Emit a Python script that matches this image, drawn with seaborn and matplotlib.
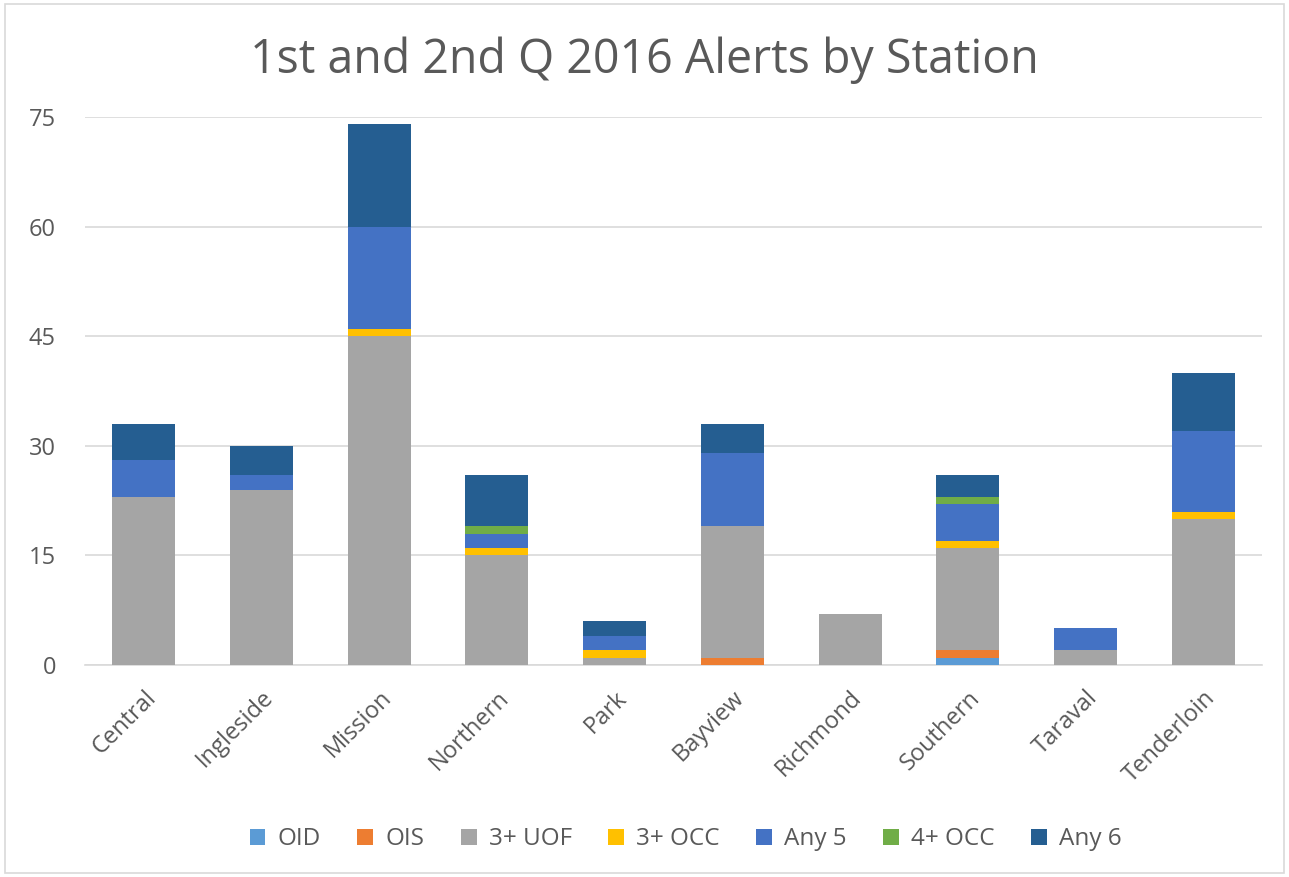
import matplotlib
matplotlib.use("Agg")
import matplotlib.pyplot as plt
import seaborn as sns
import numpy as np
import pandas as pd
from matplotlib.patches import Rectangle

stations = ["Central", "Ingleside", "Mission", "Northern", "Park", "Bayview",
            "Richmond", "Southern", "Taraval", "Tenderloin"]
oid = [0, 0, 0, 0, 0, 0, 0, 1, 0, 0]
ois = [0, 0, 0, 0, 0, 1, 0, 1, 0, 0]
uof3 = [23, 24, 45, 15, 1, 18, 7, 14, 2, 20]
occ3 = [0, 0, 1, 1, 1, 0, 0, 1, 0, 1]
any5 = [5, 2, 14, 2, 2, 10, 0, 5, 3, 11]
occ4 = [0, 0, 0, 1, 0, 0, 0, 1, 0, 0]
any6 = [5, 4, 14, 7, 2, 4, 0, 3, 0, 8]
series_names = ["OID", "OIS", "3+ UOF", "3+ OCC", "Any 5", "4+ OCC", "Any 6"]
series_vals = [oid, ois, uof3, occ3, any5, occ4, any6]
colors = ["#5B9BD5", "#ED7D31", "#A5A5A5", "#FFC000", "#4472C4", "#70AD47", "#255E91"]
yticks = [0, 15, 30, 45, 60, 75]
title = "1st and 2nd Q 2016 Alerts by Station"

sns.set_theme(style="white")
plt.rcParams['font.family'] = ['Open Sans', 'DejaVu Sans']

fig = plt.figure(figsize=(12.89, 8.77), dpi=100)
ax = fig.add_axes([0.066, 0.2417, 0.913, 0.6249])

bottom = np.zeros(len(stations))
for name, vals, c in zip(series_names, series_vals, colors):
    df = pd.DataFrame({"station": stations, "value": vals})
    sns.barplot(data=df, x="station", y="value", color=c, bottom=bottom,
                width=0.535, ax=ax, label=name, saturation=1, zorder=3,
                linewidth=0, edgecolor="none")
    bottom = bottom + np.array(vals)

handles, labels = ax.get_legend_handles_labels()
if ax.get_legend() is not None:
    ax.get_legend().remove()

ax.set_ylim(0, 75)
ax.set_xlim(-0.5, len(stations) - 0.5)
ax.set_yticks(yticks)
ax.yaxis.grid(True, color="#D9D9D9", linewidth=1.2, zorder=0)
ax.set_axisbelow(True)
for s in ["top", "right", "left"]:
    ax.spines[s].set_visible(False)
ax.spines["bottom"].set_color("#D9D9D9")
ax.spines["bottom"].set_linewidth(1.2)
ax.set_xlabel("")
ax.set_ylabel("")
ax.tick_params(axis="y", labelsize=17, labelcolor="#595959", length=0, pad=21)
ax.tick_params(axis="x", labelsize=17, labelcolor="#595959", length=0, pad=15)
for lbl in ax.get_xticklabels():
    lbl.set_rotation(45)
    lbl.set_ha("right")
    lbl.set_rotation_mode("anchor")

fig.suptitle(title, y=0.958, fontsize=33.5, color="#595959")

fig.legend(handles, labels, loc="center", bbox_to_anchor=(0.532, 0.043), ncol=7,
           frameon=False, fontsize=17.5, labelcolor="#595959", handlelength=0.65,
           handleheight=0.65, handletextpad=0.5, columnspacing=1.5)

fig.patches.append(Rectangle((0.004, 0.004), 0.992, 0.992, transform=fig.transFigure,
                             fill=False, edgecolor="#D9D9D9", linewidth=1.2))

fig.savefig("out.png", dpi=100)
